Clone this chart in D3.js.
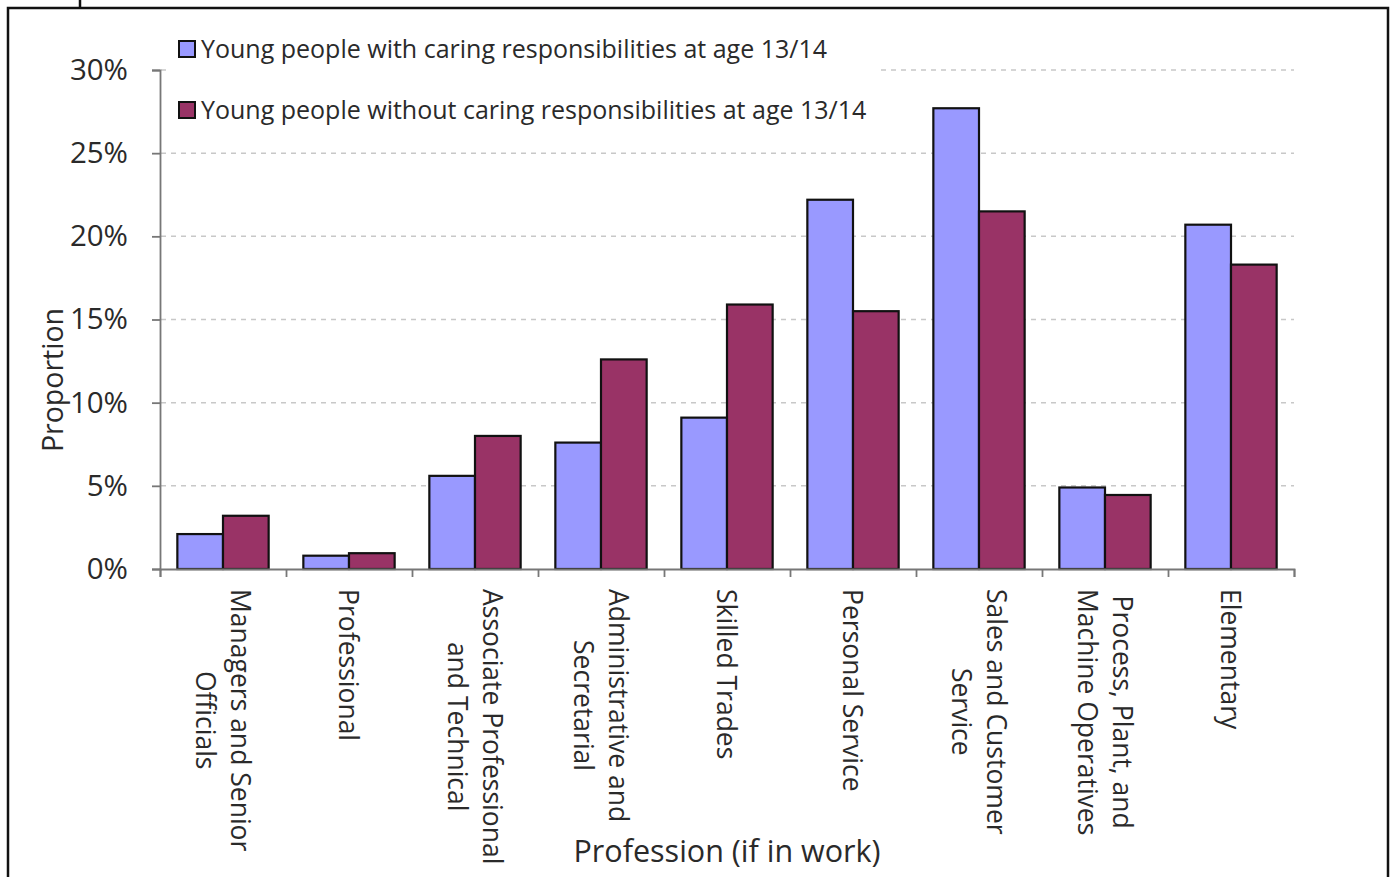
<!DOCTYPE html>
<html><head><meta charset="utf-8">
<script src="https://cdn.jsdelivr.net/npm/d3@7"></script>
<style>body{margin:0;background:#fff}svg{display:block}text{font-family:"Open Sans",Lato,sans-serif;fill:#2a2a2a}</style>
</head><body><svg id="c" width="1392" height="877"></svg>
<script>
const categories = [
  ["Managers and Senior","Officials"],
  ["Professional"],
  ["Associate Professional","and Technical"],
  ["Administrative and","Secretarial"],
  ["Skilled Trades"],
  ["Personal Service"],
  ["Sales and Customer","Service"],
  ["Process, Plant, and","Machine Operatives"],
  ["Elementary"]
];
const seriesNames = [
  "Young people with caring responsibilities at age 13/14",
  "Young people without caring responsibilities at age 13/14"
];
const withCaring    = [2.1, 0.8, 5.6, 7.6, 9.1, 22.2, 27.7, 4.9, 20.7];
const withoutCaring = [3.2, 0.95, 8.0, 12.6, 15.9, 15.5, 21.5, 4.45, 18.3];
const yTicks = [0, 5, 10, 15, 20, 25, 30];
const colors = ["#9999FF", "#993366"];

const svg = d3.select("#c");
const pL = 160, pR = 1294, pT = 70, pB = 569;

// outer frame
svg.append("path").attr("d","M8,877 V8 H1388 V877").attr("fill","none").attr("stroke","#111").attr("stroke-width",2.5);
svg.append("line").attr("x1",80).attr("x2",80).attr("y1",0).attr("y2",8).attr("stroke","#111").attr("stroke-width",2.5);

const x = d3.scaleBand().domain(d3.range(categories.length)).range([pL, pR]).paddingInner(0).paddingOuter(0);
const y = d3.scaleLinear().domain([0, 30]).range([pB, pT]);
const inner = d3.scaleBand().domain([0,1]).range([0, x.bandwidth()]).paddingOuter(0.38).paddingInner(0);

// gridlines
svg.append("g").selectAll("line").data(yTicks.filter(d=>d>0)).join("line")
  .attr("x1", pL+1).attr("x2", pR).attr("y1", d=>y(d)).attr("y2", d=>y(d))
  .attr("stroke","#c8c8c8").attr("stroke-width",1.5).attr("stroke-dasharray","5,5");

// legend background (covers top gridline)
svg.append("rect").attr("x",168).attr("y",30).attr("width",708).attr("height",104).attr("fill","#fff");

// bars
const data = categories.map((c,i)=>[withCaring[i], withoutCaring[i]]);
const g = svg.append("g").selectAll("g").data(data).join("g").attr("transform",(d,i)=>`translate(${x(i)},0)`);
g.selectAll("rect").data(d=>d).join("rect")
  .attr("x",(d,j)=>inner(j)).attr("width",inner.bandwidth())
  .attr("y",d=>y(d)).attr("height",d=>pB-y(d))
  .attr("fill",(d,j)=>colors[j]).attr("stroke","#111").attr("stroke-width",2.2);

// y axis
const yAxis = d3.axisLeft(y).tickValues(yTicks).tickSize(8).tickPadding(24).tickFormat(d=>d+"%");
const ya = svg.append("g").attr("transform",`translate(${pL},0)`).call(yAxis);
ya.select(".domain").attr("stroke","#777").attr("stroke-width",1.8);
ya.selectAll(".tick line").attr("stroke","#777").attr("stroke-width",1.8);
ya.selectAll(".tick text").attr("font-size",29.5).attr("font-family","Open Sans").attr("fill","#2a2a2a");

// x axis
const xEdge = d3.scaleLinear().domain([0, categories.length]).range([pL, pR]);
const xa = svg.append("g").attr("transform",`translate(0,${pB})`)
  .call(d3.axisBottom(xEdge).tickValues(d3.range(categories.length+1)).tickSize(8).tickFormat(""));
xa.select(".domain").attr("stroke","#777").attr("stroke-width",1.8);
xa.selectAll(".tick line").attr("stroke","#777").attr("stroke-width",1.8);

// category labels rotated
const lineGap = 35;
categories.forEach((lines,i)=>{
  const cx = x(i) + x.bandwidth()/2;
  const n = lines.length;
  const gl = svg.append("g").attr("transform",`translate(${cx},589) rotate(90)`);
  lines.forEach((t,k)=>{
    const offset = (k - (n-1)/2) * lineGap;
    gl.append("text").attr("x",0).attr("y", offset).attr("dy","0.36em")
      .attr("font-size",26.5).text(t);
  });
  const texts = gl.selectAll("text").nodes();
  const maxW = d3.max(texts, t=>t.getComputedTextLength());
  texts.forEach(t=>{
    const w = t.getComputedTextLength();
    d3.select(t).attr("x",(maxW-w)/2);
  });
});

// axis titles
svg.append("text").attr("transform","translate(53,380) rotate(-90)").attr("text-anchor","middle")
  .attr("dy","0.36em").attr("font-size",28.5).text("Proportion");
svg.append("text").attr("x",727).attr("y",862).attr("text-anchor","middle")
  .attr("font-size",30.5).text("Profession (if in work)");

// legend
seriesNames.forEach((s,i)=>{
  const ly = 49 + i*61;
  svg.append("rect").attr("x",179).attr("y",ly-8).attr("width",16).attr("height",16)
    .attr("fill",colors[i]).attr("stroke","#111").attr("stroke-width",2);
  svg.append("text").attr("x",201).attr("y",ly).attr("dy","0.36em").attr("font-size",25).text(s);
});
</script></body></html>
